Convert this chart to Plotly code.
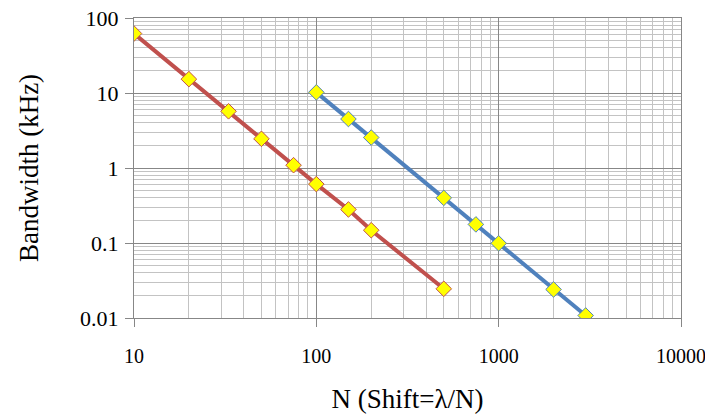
import plotly.graph_objects as go

red_n = [10, 20, 33, 50, 75, 100, 150, 200, 500]
red_bw = [62, 15.3, 5.7, 2.45, 1.09, 0.61, 0.28, 0.148, 0.0245]

blue_n = [100, 150, 200, 500, 750, 1000, 2000, 3000]
blue_bw = [10.2, 4.5, 2.55, 0.40, 0.177, 0.099, 0.024, 0.0108]

x_tickvals = [10, 100, 1000, 10000]
x_ticktext = ["10", "100", "1000", "10000"]
y_tickvals = [0.01, 0.1, 1, 10, 100]
y_ticktext = ["0.01", "0.1", "1", "10", "100"]

red_color = "#C0504D"
blue_color = "#4F81BD"
marker_fill = "#FFFF00"
major_grid = "#878787"
minor_grid = "#C3C3C3"
font_family = "Times New Roman, Liberation Serif, serif"

fig = go.Figure()
fig.add_trace(go.Scatter(
    x=red_n, y=red_bw, mode="lines+markers",
    line=dict(color=red_color, width=4),
    marker=dict(symbol="diamond", size=12, color=marker_fill,
                line=dict(color=red_color, width=1)),
    showlegend=False))
fig.add_trace(go.Scatter(
    x=blue_n, y=blue_bw, mode="lines+markers",
    line=dict(color=blue_color, width=4),
    marker=dict(symbol="diamond", size=12, color=marker_fill,
                line=dict(color=blue_color, width=1)),
    showlegend=False))

axis_common = dict(
    type="log", showgrid=True, gridcolor=major_grid, gridwidth=1,
    showline=True, linecolor=major_grid, linewidth=1, mirror=True,
    ticks="outside", ticklen=8, tickcolor=major_grid,
    ticklabeloverflow="allow",
    minor=dict(showgrid=True, gridcolor=minor_grid, gridwidth=1, dtick="D1"),
    zeroline=False, automargin=False,
)

fig.update_xaxes(
    **axis_common, range=[1, 4], tickvals=x_tickvals, ticktext=x_ticktext,
    tickfont=dict(family=font_family, size=20, color="black"),
    ticklabelstandoff=12,
    title=dict(text="N (Shift=λ/N)", font=dict(family=font_family, size=27, color="black"), standoff=30),
)
fig.update_yaxes(
    **axis_common, range=[-2, 2], tickvals=y_tickvals, ticktext=y_ticktext,
    tickfont=dict(family=font_family, size=22, color="black"),
    ticklabelstandoff=2,
    title=dict(text="Bandwidth (kHz)", font=dict(family=font_family, size=27, color="black"), standoff=33),
)

# the page body adds an 8px margin, so the figure is shifted by 8px
fig.update_layout(
    width=705, height=406,
    margin=dict(l=126, r=32, t=10, b=96),
    paper_bgcolor="white", plot_bgcolor="white",
    font=dict(family=font_family),
)

fig.write_html("out.html")
